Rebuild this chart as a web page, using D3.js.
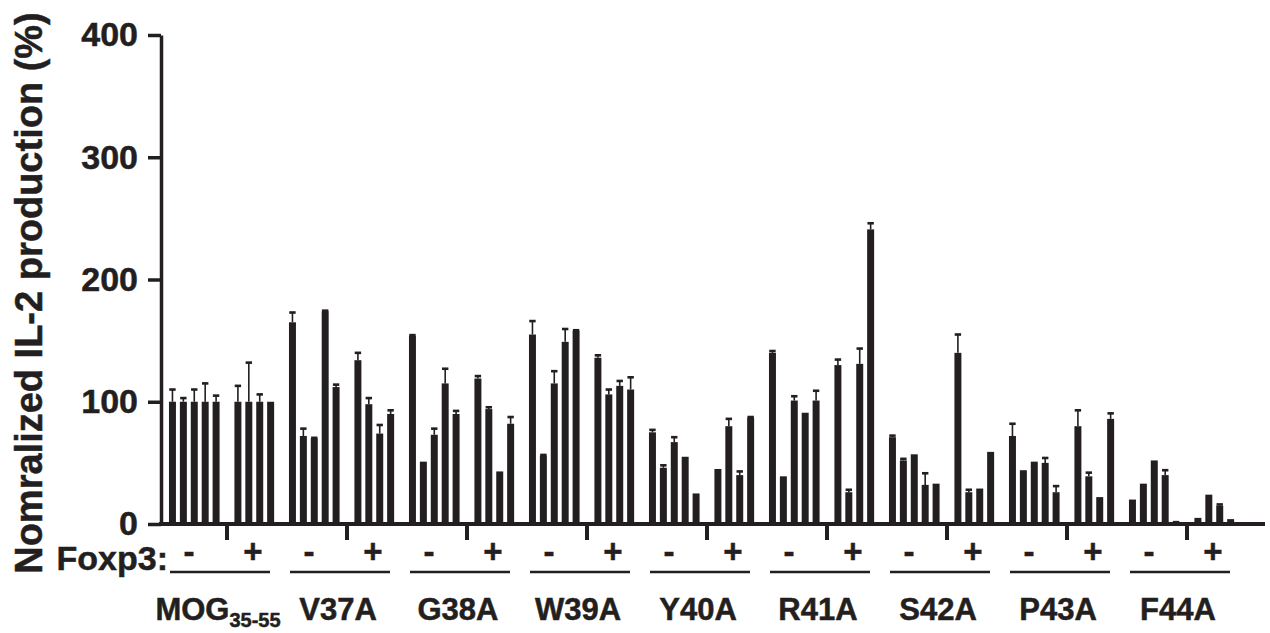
<!DOCTYPE html>
<html lang="en">
  <head>
    <meta charset="UTF-8" />
    <title>Normalized IL-2 production</title>
    <script src="https://d3js.org/d3.v7.min.js"></script>
    <style>
      body {
        margin: 0;
        background: #fff;
      }
      svg {
        display: block;
        font-family: 'Liberation Sans', Arial, sans-serif;
        font-weight: 700;
      }
      .bar {
        fill: #231f20;
      }
      .err {
        stroke: #231f20;
        stroke-width: 1.6px;
      }
      .cap {
        fill: #231f20;
      }
      .axis path,
      .axis line {
        stroke: #231f20;
      }
      .axis text {
        fill: #231f20;
        stroke: #231f20;
        stroke-width: 0.5px;
        font-size: 34px;
        font-weight: 700;
        font-family: 'Liberation Sans', Arial, sans-serif;
      }
      .label {
        fill: #231f20;
        stroke: #231f20;
        stroke-width: 0.5px;
      }
    </style>
  </head>
  <body>
    <svg width="1270" height="633"></svg>
    <script>
      const groups = ['MOG', 'V37A', 'G38A', 'W39A', 'Y40A', 'R41A', 'S42A', 'P43A', 'F44A'];
      const yTicks = [0, 100, 200, 300, 400];

      // Foxp3 - (5 bars per peptide)
      const negMean = [
        [100, 100, 100, 100, 100],
        [165, 72, 70, 174, 112],
        [154, 51, 73, 115, 90],
        [155, 56, 115, 149, 158],
        [75, 46, 67, 55, 25],
        [140, 39, 101, 91, 101],
        [71, 52, 57, 32, 33],
        [72, 44, 51, 50, 26],
        [20, 33, 52, 40, 1],
      ];
      const negErr = [
        [10, 3, 10, 15, 5],
        [8, 6, 0.5, 0.5, 2],
        [0.5, 0, 5, 12, 2.5],
        [11, 0.5, 10, 10.5, 0.5],
        [2, 2, 4, 0, 0],
        [1.5, 0, 3.5, 0, 8],
        [1.3, 1.3, 0, 9.5, 0],
        [10, 0, 0, 4, 5],
        [0, 0, 0, 4, 0.5],
      ];

      // Foxp3 + (4 bars per peptide)
      const posMean = [
        [100, 100, 100, 100],
        [134, 98, 74, 90],
        [119, 94, 43, 82],
        [136, 106, 113, 110],
        [45, 80, 40, 87],
        [130, 26, 131, 241],
        [140, 26, 29, 59],
        [80, 39, 22, 86],
        [5, 24, 15, 4],
      ];
      const posErr = [
        [13, 32, 6, 0],
        [6, 5, 7, 3],
        [2, 1.5, 0, 5.5],
        [2, 4, 4, 10],
        [0, 6, 3, 0.5],
        [4.5, 2, 12.5, 5],
        [15, 2, 0, 0],
        [13, 3, 0, 4.5],
        [0, 0, 1, 0],
      ];

      const svg = d3.select('svg');
      const ink = '#231f20';

      const x = d3.scaleBand().domain(groups).range([167, 1247]);
      // 11 slots per peptide: 5 bars, gap, 4 bars, gap
      const slot = d3
        .scaleBand()
        .domain(d3.range(11))
        .range([0, x.bandwidth()])
        .paddingInner(0.36)
        .paddingOuter(0.18);
      const y = d3.scaleLinear().domain([0, 400]).range([524, 35]);

      const rows = [];
      groups.forEach((g, gi) => {
        negMean[gi].forEach((v, i) =>
          rows.push({ group: g, slot: i, value: v, err: negErr[gi][i] })
        );
        posMean[gi].forEach((v, i) =>
          rows.push({ group: g, slot: 6 + i, value: v, err: posErr[gi][i] })
        );
      });

      const barX = (d) => x(d.group) + slot(d.slot);

      // error bars (upper only)
      const withErr = rows.filter((d) => d.err > 0.3);
      svg
        .selectAll('.err')
        .data(withErr)
        .enter()
        .append('line')
        .attr('class', 'err')
        .attr('x1', (d) => barX(d) + slot.bandwidth() / 2)
        .attr('x2', (d) => barX(d) + slot.bandwidth() / 2)
        .attr('y1', (d) => y(d.value))
        .attr('y2', (d) => y(d.value + d.err));

      svg
        .selectAll('.cap')
        .data(withErr)
        .enter()
        .append('rect')
        .attr('class', 'cap')
        .attr('x', (d) => barX(d) + slot.bandwidth() / 2 - 3.2)
        .attr('y', (d) => y(d.value + d.err) - 1.3)
        .attr('width', 6.4)
        .attr('height', 2.6);

      svg
        .selectAll('.bar')
        .data(rows)
        .enter()
        .append('rect')
        .attr('class', 'bar')
        .attr('x', barX)
        .attr('y', (d) => y(d.value))
        .attr('width', slot.bandwidth())
        .attr('height', (d) => y(0) - y(d.value));

      // y axis
      const yAxis = svg
        .append('g')
        .attr('class', 'axis')
        .attr('transform', 'translate(161,0)')
        .call(
          d3
            .axisLeft(y)
            .tickValues(yTicks)
            .tickSize(13)
            .tickSizeOuter(0)
            .tickPadding(10)
        );
      yAxis.select('.domain').attr('stroke-width', 3.5);
      yAxis.selectAll('.tick line').attr('stroke-width', 3.5);

      // x axis
      const xAxis = svg
        .append('g')
        .attr('class', 'axis')
        .attr('transform', `translate(0,${y(0)})`)
        .call(d3.axisBottom(x).tickSize(16).tickSizeOuter(0).tickFormat(''));
      xAxis.select('.domain').remove();
      xAxis.selectAll('.tick line').attr('stroke-width', 4);
      svg
        .append('line')
        .attr('x1', 159)
        .attr('x2', 1265)
        .attr('y1', y(0))
        .attr('y2', y(0))
        .attr('stroke', ink)
        .attr('stroke-width', 4);

      // Foxp3 - / + row
      const centre = (g) => x(g) + x.bandwidth() / 2;

      svg
        .append('text')
        .attr('class', 'label')
        .attr('x', 168)
        .attr('y', 570)
        .attr('text-anchor', 'end')
        .style('font-size', '34px')
        .text('Foxp3:');

      const grp = svg
        .selectAll('.grp')
        .data(groups)
        .enter()
        .append('g')
        .attr('class', 'grp');

      grp
        .append('text')
        .attr('class', 'label')
        .attr('x', (g) => centre(g) - 38)
        .attr('y', 563)
        .attr('text-anchor', 'middle')
        .style('font-size', '33px')
        .text('-');

      grp
        .append('text')
        .attr('class', 'label')
        .attr('x', (g) => centre(g) + 26)
        .attr('y', 563)
        .attr('text-anchor', 'middle')
        .style('font-size', '33px')
        .text('+');

      grp
        .append('line')
        .attr('x1', (g) => centre(g) - 57)
        .attr('x2', (g) => centre(g) + 43)
        .attr('y1', 572)
        .attr('y2', 572)
        .attr('stroke', ink)
        .attr('stroke-width', 2.5);

      const names = grp
        .append('text')
        .attr('class', 'label')
        .attr('x', (g) => centre(g) - 9)
        .attr('y', 620)
        .attr('text-anchor', 'middle')
        .style('font-size', '31px');

      names.append('tspan').text((g) => g);
      names
        .filter((g) => g === 'MOG')
        .append('tspan')
        .attr('dy', 7)
        .style('font-size', '20px')
        .text('35-55');

      // y title
      svg
        .append('text')
        .attr('class', 'label')
        .attr('transform', 'translate(42,293) rotate(-90)')
        .attr('text-anchor', 'middle')
        .style('font-size', '38px')
        .text('Nomralized IL-2 production (%)');
    </script>
  </body>
</html>
